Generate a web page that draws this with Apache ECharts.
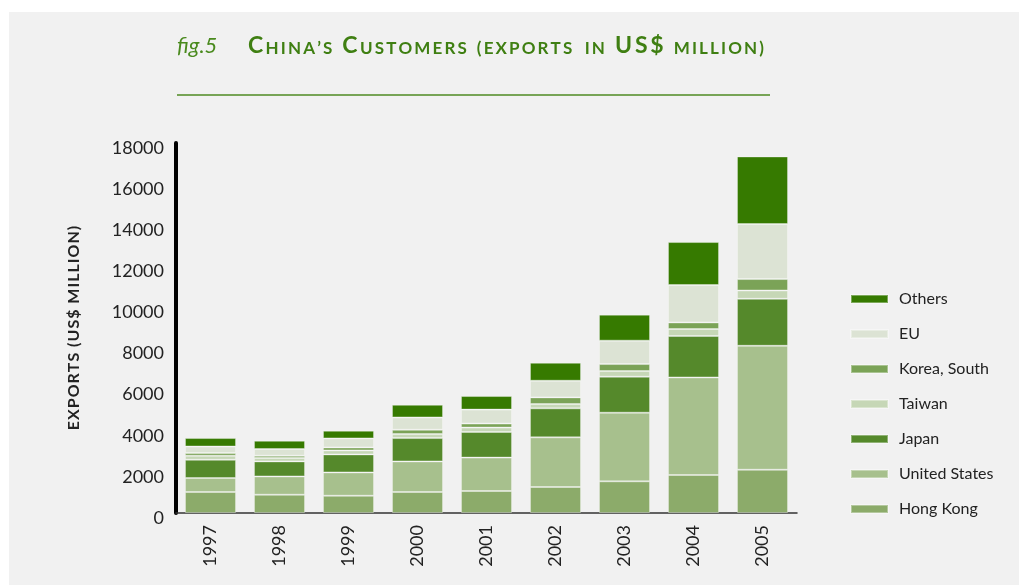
<!DOCTYPE html>
<html>
<head>
<meta charset="utf-8">
<script src="https://cdn.jsdelivr.net/npm/echarts@6/dist/echarts.min.js"></script>
<style>
html,body{margin:0;padding:0;background:#ffffff;}
#chart{width:1019px;height:585px;}
</style>
</head>
<body>
<div id="chart"></div>
<script>
const years = ['1997','1998','1999','2000','2001','2002','2003','2004','2005'];
const hongKong     = [1020, 890, 840, 1020, 1070, 1265, 1540, 1850, 2105];
const unitedStates = [680, 890, 1135, 1490, 1625, 2415, 3340, 4745, 6030];
const japan        = [890, 730, 875, 1135, 1245, 1410, 1750, 2015, 2285];
const taiwan       = [195, 165, 195, 195, 215, 210, 275, 340, 405];
const koreaSouth   = [130, 110, 145, 210, 195, 325, 340, 320, 555];
const eu           = [320, 325, 440, 600, 680, 810, 1140, 1820, 2675];
const others       = [410, 405, 375, 615, 660, 875, 1265, 2090, 3290];
const yTicks = {min: 0, max: 18000, interval: 2000};

const seriesDefs = [
  {name: 'Hong Kong', data: hongKong, color: '#8cab6a'},
  {name: 'United States', data: unitedStates, color: '#a7c08d'},
  {name: 'Japan', data: japan, color: '#55892b'},
  {name: 'Taiwan', data: taiwan, color: '#c6d7b6'},
  {name: 'Korea, South', data: koreaSouth, color: '#7ba357'},
  {name: 'EU', data: eu, color: '#dce3d4'},
  {name: 'Others', data: others, color: '#367a00'}
];

const chart = echarts.init(document.getElementById('chart'), null, {renderer: 'canvas'});
const font = 'Lato';
const green = '#3f7f12';
const T = '\u2009';   // thin space for letter tracking
const H = '\u200A';   // hair space
const track = (s, sp) => s.split('').join(sp);

const titleText =
  '{c|C}' + T + '{s|' + track('HINA’S', T) + '}   ' +
  '{c|C}' + T + '{s|' + track('USTOMERS', T) + '}   ' +
  '{s|' + track('(EXPORTS', T) + '   ' + track('IN', T) + '}   ' +
  '{c|' + track('US$', T) + '}   ' +
  '{s|' + track('MILLION)', T) + '}';

const option = {
  backgroundColor: '#ffffff',
  animation: false,
  textStyle: {fontFamily: font},
  graphic: [
    {type: 'rect', z: -10, shape: {x: 9, y: 12, width: 1010, height: 573}, style: {fill: '#f1f1f1'}},
    {type: 'line', shape: {x1: 177, y1: 95, x2: 770, y2: 95}, style: {stroke: '#4e8a22', lineWidth: 1.6}},
    {type: 'text', left: 177, top: 35, style: {text: 'fig.5', fontFamily: font, fontStyle: 'italic', fontSize: 22, fill: '#4a8a1e'}},
    {type: 'text', left: 248, top: 34, style: {
      text: titleText,
      rich: {
        c: {fontFamily: font, fontWeight: 'bold', fontSize: 23, fill: green, verticalAlign: 'bottom', lineHeight: 27},
        s: {fontFamily: font, fontWeight: 'bold', fontSize: 17, fill: green, verticalAlign: 'bottom', lineHeight: 27}
      }
    }}
  ],
  legend: {
    orient: 'vertical',
    left: 845,
    top: 286,
    itemWidth: 37,
    itemHeight: 8,
    itemGap: 19,
    icon: 'rect',
    data: ['Others','EU','Korea, South','Taiwan','Japan','United States','Hong Kong'],
    textStyle: {fontFamily: font, fontSize: 16, color: '#222', padding: [0,0,0,6]}
  },
  grid: {left: 176, right: 222, top: 143, bottom: 72},
  xAxis: {
    type: 'category',
    data: years,
    axisLine: {lineStyle: {color: '#333', width: 1.5}},
    axisTick: {show: false},
    axisLabel: {rotate: 90, margin: 12, fontSize: 18, color: '#222', fontFamily: font}
  },
  yAxis: {
    type: 'value',
    min: yTicks.min, max: yTicks.max, interval: yTicks.interval,
    name: track('EXPORTS (US$ MILLION)', H),
    nameLocation: 'middle',
    nameGap: 94,
    nameTextStyle: {fontFamily: font, fontSize: 16, fontWeight: 'bold', color: '#222'},
    axisLine: {show: true, lineStyle: {color: '#000', width: 4}},
    axisTick: {show: false},
    splitLine: {show: false},
    axisLabel: {margin: 12, fontSize: 18, color: '#222', fontFamily: font,
      verticalAlign: 'top', lineHeight: 10,
      formatter: v => String(v)}
  },
  series: seriesDefs.map(d => ({
    name: d.name,
    type: 'bar',
    stack: 'total',
    barWidth: '74%',
    data: d.data,
    itemStyle: {color: d.color, borderColor: 'rgba(255,255,255,0.35)', borderWidth: 1}
  }))
};
chart.setOption(option);
</script>
</body>
</html>
